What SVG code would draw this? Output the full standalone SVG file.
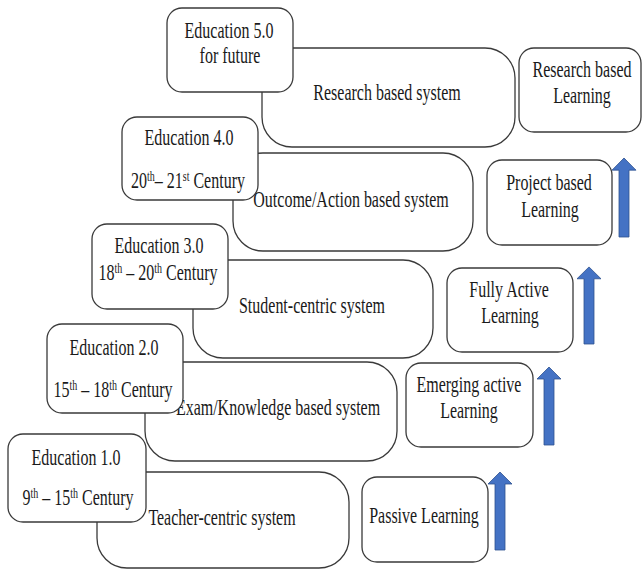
<svg xmlns="http://www.w3.org/2000/svg" width="643" height="570" viewBox="0 0 643 570">
<style>
.sys{fill:#fff;stroke:#3a3a3a;stroke-width:1.3}
.edu{fill:#fff;stroke:#3a3a3a;stroke-width:1.3}
.lrn{fill:#fff;stroke:#3a3a3a;stroke-width:1.3}
.t{font-family:"Liberation Serif","Times New Roman",serif;font-size:16px;fill:#1a1a1a;text-anchor:middle}
.sup{font-size:10px}
.arr{fill:#4472C4;stroke:#2F528F;stroke-width:0.8}
</style>
<defs>
<path id="arrow" d="M-5,0 L-5,-66 L-12,-66 L0,-78 L12,-66 L5,-66 L5,0 Z"/>
</defs>
<rect width="643" height="570" fill="#fff"/>

<g id="sys5"><rect class="sys" x="262" y="48" width="253" height="99" rx="30" ry="30"/>
<text class="t" transform="translate(387,100) scale(1,1.38)">Research based system</text></g>
<g id="sys4"><rect class="sys" x="233" y="153" width="240" height="98" rx="30" ry="30"/>
<text class="t" transform="translate(351,207) scale(1,1.38)">Outcome/Action based system</text></g>
<g id="sys3"><rect class="sys" x="193" y="260" width="240" height="98" rx="30" ry="30"/>
<text class="t" transform="translate(312,313) scale(1,1.38)">Student-centric system</text></g>
<g id="sys2"><rect class="sys" x="145" y="362" width="252" height="99" rx="30" ry="30"/>
<text class="t" transform="translate(278,415) scale(1,1.38)">Exam/Knowledge based system</text></g>
<g id="sys1"><rect class="sys" x="97" y="472" width="252" height="96" rx="30" ry="30"/>
<text class="t" transform="translate(222,525) scale(1,1.38)">Teacher-centric system</text></g>

<g id="edu5"><rect class="edu" x="167" y="8" width="126" height="84" rx="15" ry="15"/>
<text class="t" transform="translate(229,38) scale(1,1.38)">Education 5.0</text>
<text class="t" transform="translate(230,63) scale(1,1.38)">for future</text></g>
<g id="edu4"><rect class="edu" x="122" y="117" width="136" height="83" rx="15" ry="15"/>
<text class="t" transform="translate(189,145) scale(1,1.38)">Education 4.0</text>
<text class="t" transform="translate(188,188) scale(1,1.38)">20<tspan class="sup" dy="-5">th</tspan><tspan dy="5">– 21</tspan><tspan class="sup" dy="-5">st</tspan><tspan dy="5"> Century</tspan></text></g>
<g id="edu3"><rect class="edu" x="92" y="224" width="136" height="85" rx="15" ry="15"/>
<text class="t" transform="translate(159,253) scale(1,1.38)">Education 3.0</text>
<text class="t" transform="translate(158,280) scale(1,1.38)">18<tspan class="sup" dy="-5">th</tspan><tspan dy="5"> – 20</tspan><tspan class="sup" dy="-5">th</tspan><tspan dy="5"> Century</tspan></text></g>
<g id="edu2"><rect class="edu" x="47" y="324" width="136" height="89" rx="15" ry="15"/>
<text class="t" transform="translate(114,355) scale(1,1.38)">Education 2.0</text>
<text class="t" transform="translate(113,397) scale(1,1.38)">15<tspan class="sup" dy="-5">th</tspan><tspan dy="5"> – 18</tspan><tspan class="sup" dy="-5">th</tspan><tspan dy="5"> Century</tspan></text></g>
<g id="edu1"><rect class="edu" x="8" y="434" width="138" height="88" rx="15" ry="15"/>
<text class="t" transform="translate(76,465) scale(1,1.38)">Education 1.0</text>
<text class="t" transform="translate(78,505) scale(1,1.38)">9<tspan class="sup" dy="-5">th</tspan><tspan dy="5"> – 15</tspan><tspan class="sup" dy="-5">th</tspan><tspan dy="5"> Century</tspan></text></g>

<g id="learn5"><rect class="lrn" x="519" y="48" width="122" height="84" rx="15" ry="15"/>
<text class="t" transform="translate(582,77) scale(1,1.38)">Research based</text>
<text class="t" transform="translate(582,103) scale(1,1.38)">Learning</text></g>
<g id="learn4"><rect class="lrn" x="487" y="160" width="125" height="85" rx="15" ry="15"/>
<text class="t" transform="translate(549,190) scale(1,1.38)">Project based</text>
<text class="t" transform="translate(550,217) scale(1,1.38)">Learning</text></g>
<g id="learn3"><rect class="lrn" x="447" y="268" width="126" height="84" rx="15" ry="15"/>
<text class="t" transform="translate(509,297) scale(1,1.38)">Fully Active</text>
<text class="t" transform="translate(510,323) scale(1,1.38)">Learning</text></g>
<g id="learn2"><rect class="lrn" x="406" y="363" width="127" height="84" rx="15" ry="15"/>
<text class="t" transform="translate(469,392) scale(1,1.38)">Emerging active</text>
<text class="t" transform="translate(469,418) scale(1,1.38)">Learning</text></g>
<g id="learn1"><rect class="lrn" x="362" y="477" width="126" height="85" rx="15" ry="15"/>
<text class="t" transform="translate(424,523) scale(1,1.38)">Passive Learning</text></g>

<g id="connectors">
<use href="#arrow" class="arr" transform="translate(500,550)"/>
<use href="#arrow" class="arr" transform="translate(549,445)"/>
<use href="#arrow" class="arr" transform="translate(589,344) scale(1,0.988)"/>
<use href="#arrow" class="arr" transform="translate(624,237) scale(1,1.013)"/>
</g>
</svg>
